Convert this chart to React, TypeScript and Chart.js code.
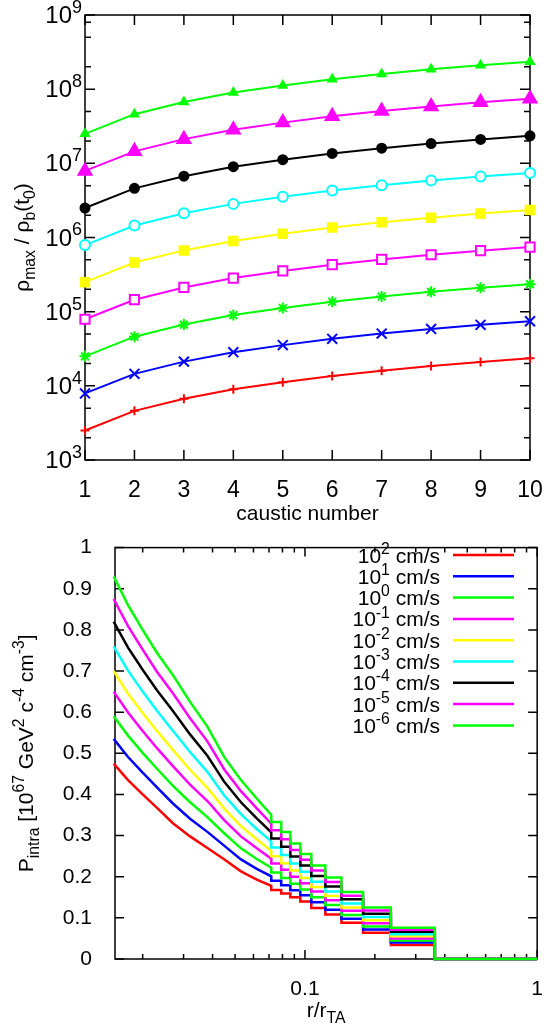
import { useEffect, useRef } from 'react';
import { Chart, registerables } from 'chart.js';

Chart.register(...registerables);

const FONT = '"Liberation Sans", Arial, Helvetica, sans-serif';

// ---------- top chart: rho_max / rho_b(t0) vs caustic number ----------
const causticNumbers = [1, 2, 3, 4, 5, 6, 7, 8, 9, 10];
const rhoV1e2 = [2500, 4600, 6700, 9000, 11200, 13600, 16000, 18500, 21000, 23500];
const rhoV1e1 = [7900, 14500, 21200, 28400, 35400, 43000, 50600, 58500, 66400, 74300];
const rhoV1e0 = [25000, 46000, 67000, 90000, 112000, 136000, 160000, 185000, 210000, 235000];
const rhoV1em1 = [79000, 145000, 212000, 284000, 354000, 430000, 506000, 585000, 664000, 743000];
const rhoV1em2 = [250000, 460000, 670000, 900000, 1120000, 1360000, 1600000, 1850000, 2100000, 2350000];
const rhoV1em3 = [790000, 1450000, 2120000, 2840000, 3540000, 4300000, 5060000, 5850000, 6640000, 7430000];
const rhoV1em4 = [2500000, 4600000, 6700000, 9000000, 11200000, 13600000, 16000000, 18500000, 21000000, 23500000];
const rhoV1em5 = [7900000, 14500000, 21200000, 28400000, 35400000, 43000000, 50600000, 58500000, 66400000, 74300000];
const rhoV1em6 = [25000000, 46000000, 67000000, 90000000, 112000000, 136000000, 160000000, 185000000, 210000000, 235000000];

const rhoDecadeExponents = [3, 4, 5, 6, 7, 8, 9];
const rhoMinorTicks = [2e3, 5e3, 2e4, 5e4, 2e5, 5e5, 2e6, 5e6, 2e7, 5e7, 2e8, 5e8, 8e8];

// ---------- bottom chart: P_intra vs r/r_TA ----------
const rSmooth = [0.015, 0.0173, 0.02, 0.023, 0.027, 0.032, 0.038, 0.045, 0.053, 0.062, 0.0716];
const causticRadii = [0.0716, 0.079, 0.0865, 0.0955, 0.1065, 0.1224, 0.1436, 0.178, 0.2344, 0.3625];
const rOuter = 1;

const pSmoothV1e2 = [0.475, 0.435, 0.4, 0.368, 0.33, 0.298, 0.27, 0.242, 0.213, 0.193, 0.178];
const pSmoothV1e1 = [0.535, 0.491, 0.453, 0.418, 0.378, 0.341, 0.309, 0.275, 0.242, 0.219, 0.201];
const pSmoothV1e0 = [0.59, 0.543, 0.501, 0.463, 0.421, 0.381, 0.345, 0.305, 0.269, 0.243, 0.222];
const pSmoothV1em1 = [0.65, 0.599, 0.554, 0.513, 0.469, 0.424, 0.384, 0.337, 0.298, 0.269, 0.244];
const pSmoothV1em2 = [0.7, 0.645, 0.598, 0.555, 0.508, 0.46, 0.416, 0.365, 0.323, 0.291, 0.263];
const pSmoothV1em3 = [0.76, 0.701, 0.65, 0.604, 0.555, 0.503, 0.455, 0.397, 0.352, 0.316, 0.286];
const pSmoothV1em4 = [0.82, 0.757, 0.703, 0.654, 0.603, 0.546, 0.494, 0.43, 0.381, 0.342, 0.308];
const pSmoothV1em5 = [0.875, 0.809, 0.752, 0.699, 0.646, 0.585, 0.529, 0.46, 0.408, 0.366, 0.329];
const pSmoothV1em6 = [0.93, 0.86, 0.8, 0.745, 0.69, 0.625, 0.565, 0.49, 0.435, 0.39, 0.35];

const pPlateauV1e2 = [0.168, 0.159, 0.15, 0.14, 0.124, 0.108, 0.088, 0.064, 0.034];
const pPlateauV1e1 = [0.19, 0.179, 0.167, 0.155, 0.138, 0.12, 0.098, 0.072, 0.04];
const pPlateauV1e0 = [0.21, 0.197, 0.183, 0.169, 0.15, 0.131, 0.107, 0.079, 0.045];
const pPlateauV1em1 = [0.232, 0.217, 0.2, 0.184, 0.164, 0.143, 0.117, 0.087, 0.05];
const pPlateauV1em2 = [0.25, 0.233, 0.215, 0.197, 0.175, 0.153, 0.125, 0.094, 0.055];
const pPlateauV1em3 = [0.271, 0.253, 0.232, 0.212, 0.188, 0.164, 0.135, 0.102, 0.06];
const pPlateauV1em4 = [0.293, 0.273, 0.249, 0.227, 0.202, 0.176, 0.145, 0.11, 0.066];
const pPlateauV1em5 = [0.313, 0.291, 0.265, 0.241, 0.215, 0.187, 0.154, 0.118, 0.071];
const pPlateauV1em6 = [0.333, 0.309, 0.281, 0.255, 0.227, 0.198, 0.163, 0.125, 0.076];

const pTicks = [0, 0.1, 0.2, 0.3, 0.4, 0.5, 0.6, 0.7, 0.8, 0.9, 1];
const rMajorTicks = [0.1, 1];
const rMinorTicks = [0.02, 0.03, 0.04, 0.05, 0.06, 0.07, 0.08, 0.09, 0.2, 0.3, 0.4, 0.5, 0.6, 0.7, 0.8, 0.9];

const velocityExponents = ['2', '1', '0', '-1', '-2', '-3', '-4', '-5', '-6'];

// ---------- styles ----------
const seriesColors = ['#ff0000', '#0000ff', '#00ff00', '#ff00ff', '#ffff00', '#00ffff', '#000000', '#ff00ff', '#00ff00'];
const markerStyles = ['cross', 'crossRot', 'star', 'rect', 'rect', 'circle', 'circle', 'triangle', 'triangle'];
const markerRadii = [4.5, 7, 5.5, 6.5, 6, 5, 4.5, 7.5, 4.5];
const markerFilled = [true, true, true, false, true, false, true, true, true];

const rhoSeries = [rhoV1e2, rhoV1e1, rhoV1e0, rhoV1em1, rhoV1em2, rhoV1em3, rhoV1em4, rhoV1em5, rhoV1em6];
const pSmoothSeries = [pSmoothV1e2, pSmoothV1e1, pSmoothV1e0, pSmoothV1em1, pSmoothV1em2, pSmoothV1em3, pSmoothV1em4, pSmoothV1em5, pSmoothV1em6];
const pPlateauSeries = [pPlateauV1e2, pPlateauV1e1, pPlateauV1e0, pPlateauV1em1, pPlateauV1em2, pPlateauV1em3, pPlateauV1em4, pPlateauV1em5, pPlateauV1em6];

type Part = { t: string; s?: 'sup' | 'sub' };

function drawRich(ctx: CanvasRenderingContext2D, parts: Part[], x: number, y: number, align: 'left' | 'right' | 'center', size: number) {
  const small = size * 0.75;
  const widths = parts.map((p) => {
    ctx.font = `${p.s ? small : size}px ${FONT}`;
    return ctx.measureText(p.t).width;
  });
  const total = widths.reduce((a, b) => a + b, 0);
  let cx = align === 'left' ? x : align === 'right' ? x - total : x - total / 2;
  ctx.textAlign = 'left';
  ctx.textBaseline = 'alphabetic';
  parts.forEach((p, i) => {
    ctx.font = `${p.s ? small : size}px ${FONT}`;
    const dy = p.s === 'sup' ? -size * 0.42 : p.s === 'sub' ? size * 0.3 : 0;
    ctx.fillText(p.t, cx, y + dy);
    cx += widths[i];
  });
}

const topDecor = {
  id: 'topDecor',
  beforeDatasetsDraw(chart: any) {
    const { ctx, chartArea: a, scales } = chart;
    const xs = scales.x;
    const ys = scales.y;
    ctx.save();
    ctx.strokeStyle = '#000';
    ctx.lineWidth = 1.5;
    ctx.strokeRect(a.left, a.top, a.right - a.left, a.bottom - a.top);
    ctx.beginPath();
    causticNumbers.forEach((n) => {
      const px = xs.getPixelForValue(n);
      ctx.moveTo(px, a.bottom); ctx.lineTo(px, a.bottom - 10);
      ctx.moveTo(px, a.top); ctx.lineTo(px, a.top + 10);
    });
    rhoDecadeExponents.forEach((k) => {
      const py = ys.getPixelForValue(Math.pow(10, k));
      ctx.moveTo(a.left, py); ctx.lineTo(a.left + 10, py);
      ctx.moveTo(a.right, py); ctx.lineTo(a.right - 10, py);
    });
    rhoMinorTicks.forEach((v) => {
      const py = ys.getPixelForValue(v);
      ctx.moveTo(a.left, py); ctx.lineTo(a.left + 6, py);
      ctx.moveTo(a.right, py); ctx.lineTo(a.right - 6, py);
    });
    ctx.stroke();
    ctx.restore();
  },
  afterDraw(chart: any) {
    const { ctx, chartArea: a, scales } = chart;
    const ys = scales.y;
    ctx.save();
    ctx.fillStyle = '#000';
    rhoDecadeExponents.forEach((k) => {
      const py = ys.getPixelForValue(Math.pow(10, k));
      drawRich(ctx, [{ t: '10' }, { t: String(k), s: 'sup' }], 82, py + 8, 'right', 24);
    });
    ctx.translate(29, (a.top + a.bottom) / 2);
    ctx.rotate(-Math.PI / 2);
    drawRich(ctx, [
      { t: 'ρ' }, { t: 'max', s: 'sub' }, { t: ' / ρ' }, { t: 'b', s: 'sub' }, { t: '(t' }, { t: '0', s: 'sub' }, { t: ')' },
    ], 0, 0, 'center', 21);
    ctx.restore();
  },
};

const bottomDecor = {
  id: 'bottomDecor',
  beforeDatasetsDraw(chart: any) {
    const { ctx, chartArea: a, scales } = chart;
    const xs = scales.x;
    const ys = scales.y;
    ctx.save();
    ctx.strokeStyle = '#000';
    ctx.lineWidth = 1.5;
    ctx.strokeRect(a.left, a.top, a.right - a.left, a.bottom - a.top);
    ctx.beginPath();
    pTicks.forEach((v) => {
      const py = ys.getPixelForValue(v);
      ctx.moveTo(a.left, py); ctx.lineTo(a.left + 9, py);
      ctx.moveTo(a.right, py); ctx.lineTo(a.right - 9, py);
    });
    rMajorTicks.forEach((v) => {
      const px = xs.getPixelForValue(v);
      ctx.moveTo(px, a.bottom); ctx.lineTo(px, a.bottom - 9);
      ctx.moveTo(px, a.top); ctx.lineTo(px, a.top + 9);
    });
    rMinorTicks.forEach((v) => {
      const px = xs.getPixelForValue(v);
      ctx.moveTo(px, a.bottom); ctx.lineTo(px, a.bottom - 5);
      ctx.moveTo(px, a.top); ctx.lineTo(px, a.top + 5);
    });
    ctx.stroke();
    ctx.restore();
  },
  afterDraw(chart: any) {
    const { ctx, chartArea: a } = chart;
    ctx.save();
    ctx.fillStyle = '#000';
    velocityExponents.forEach((e, i) => {
      const rowY = 35 + 21.3 * i;
      drawRich(ctx, [{ t: '10' }, { t: e, s: 'sup' }, { t: ' cm/s' }], 440, rowY + 7.5, 'right', 21);
      ctx.strokeStyle = seriesColors[i];
      ctx.lineWidth = 2.5;
      ctx.beginPath();
      ctx.moveTo(453, rowY);
      ctx.lineTo(514, rowY);
      ctx.stroke();
    });
    ctx.fillStyle = '#000';
    drawRich(ctx, [{ t: 'r/r' }, { t: 'TA', s: 'sub' }], (a.left + a.right) / 2, 497, 'center', 21);
    ctx.translate(33, (a.top + a.bottom) / 2);
    ctx.rotate(-Math.PI / 2);
    drawRich(ctx, [
      { t: 'P' }, { t: 'intra', s: 'sub' }, { t: ' [10' }, { t: '67', s: 'sup' }, { t: ' GeV' }, { t: '2', s: 'sup' },
      { t: ' c' }, { t: '-4', s: 'sup' }, { t: ' cm' }, { t: '-3', s: 'sup' }, { t: ']' },
    ], 0, 0, 'center', 21);
    ctx.restore();
  },
};

export default function App() {
  const topRef = useRef<HTMLCanvasElement>(null);
  const bottomRef = useRef<HTMLCanvasElement>(null);

  useEffect(() => {
    const topChart = new Chart(topRef.current as HTMLCanvasElement, {
      type: 'line',
      data: {
        datasets: rhoSeries.map((vals, i) => ({
          label: `10^${velocityExponents[i]} cm/s`,
          data: causticNumbers.map((n, j) => ({ x: n, y: vals[j] })),
          borderColor: seriesColors[i],
          backgroundColor: markerFilled[i] ? seriesColors[i] : '#ffffff',
          pointStyle: markerStyles[i] as any,
          pointRadius: markerRadii[i],
          pointBorderWidth: 2,
          pointBorderColor: seriesColors[i],
          pointBackgroundColor: markerFilled[i] ? seriesColors[i] : '#ffffff',
          borderWidth: 2,
          tension: 0,
          clip: false as any,
          order: 8 - i,
        })),
      },
      options: {
        responsive: false,
        animation: false,
        devicePixelRatio: 1,
        layout: { padding: { top: 15, right: 23, left: 0, bottom: 0 } },
        plugins: { legend: { display: false }, tooltip: { enabled: false } },
        events: [],
        scales: {
          x: {
            type: 'linear',
            min: 1,
            max: 10,
            grid: { display: false },
            border: { display: false },
            ticks: { stepSize: 1, color: '#000', font: { family: FONT, size: 23 }, padding: 9, maxRotation: 0 },
            title: { display: true, text: 'caustic number', color: '#000', font: { family: FONT, size: 21 }, padding: { top: 0, bottom: 13 } },
            afterFit: (s: any) => { s.height = 80; },
          },
          y: {
            type: 'logarithmic',
            min: 1e3,
            max: 1e9,
            grid: { display: false },
            border: { display: false },
            ticks: { display: false },
            afterFit: (s: any) => { s.width = 85; },
          },
        },
      } as any,
      plugins: [topDecor],
    });

    const bottomChart = new Chart(bottomRef.current as HTMLCanvasElement, {
      type: 'line',
      data: {
        datasets: pSmoothSeries.map((smooth, i) => {
          const pts: { x: number; y: number }[] = rSmooth.map((r, j) => ({ x: r, y: smooth[j] }));
          const plat = pPlateauSeries[i];
          plat.forEach((p, j) => {
            pts.push({ x: causticRadii[j], y: p });
            pts.push({ x: causticRadii[j + 1], y: p });
          });
          pts.push({ x: causticRadii[causticRadii.length - 1], y: 0 });
          pts.push({ x: rOuter, y: 0 });
          return {
            label: `10^${velocityExponents[i]} cm/s`,
            data: pts,
            borderColor: seriesColors[i],
            backgroundColor: seriesColors[i],
            borderWidth: 2.5,
            pointRadius: 0,
            tension: 0,
            clip: false as any,
            order: 8 - i,
          };
        }),
      },
      options: {
        responsive: false,
        animation: false,
        devicePixelRatio: 1,
        layout: { padding: { top: 15, right: 14, left: 0, bottom: 0 } },
        plugins: { legend: { display: false }, tooltip: { enabled: false } },
        events: [],
        scales: {
          x: {
            type: 'logarithmic',
            min: 0.0152,
            max: 1,
            grid: { display: false },
            border: { display: false },
            afterBuildTicks: (s: any) => { s.ticks = rMajorTicks.map((v) => ({ value: v })); },
            ticks: {
              color: '#000',
              font: { family: FONT, size: 21 },
              padding: 10,
              autoSkip: false,
              maxRotation: 0,
              callback: (v: any) => String(v),
            },
            afterFit: (s: any) => { s.height = 69; },
          },
          y: {
            type: 'linear',
            min: 0,
            max: 1,
            grid: { display: false },
            border: { display: false },
            ticks: {
              stepSize: 0.1,
              color: '#000',
              font: { family: FONT, size: 21 },
              padding: 15,
              callback: (v: any) => String(Math.round(Number(v) * 10) / 10),
            },
            afterFit: (s: any) => { s.width = 115; },
          },
        },
      } as any,
      plugins: [bottomDecor],
    });

    return () => {
      topChart.destroy();
      bottomChart.destroy();
    };
  }, []);

  return (
    <div style={{ position: 'absolute', left: 0, top: 0, width: 553, height: 1028, background: '#ffffff' }}>
      <canvas ref={topRef} width={553} height={540} style={{ position: 'absolute', left: 0, top: 0, width: 553, height: 540 }} />
      <canvas ref={bottomRef} width={553} height={508} style={{ position: 'absolute', left: 0, top: 520, width: 553, height: 508 }} />
    </div>
  );
}
